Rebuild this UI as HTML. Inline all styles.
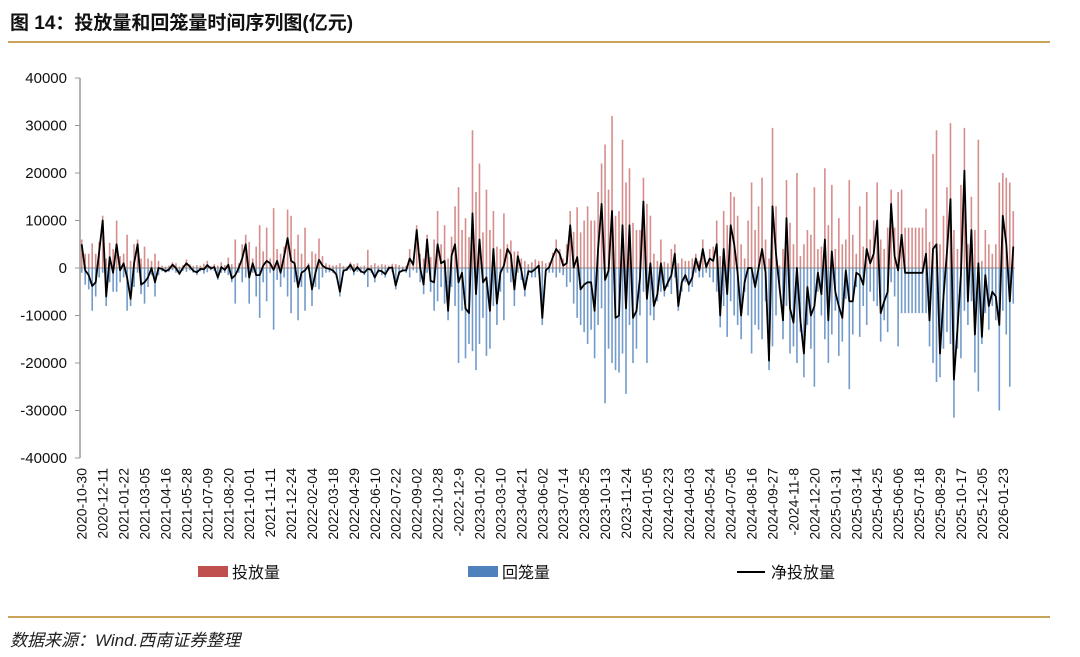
<!DOCTYPE html>
<html><head><meta charset="utf-8">
<style>
body{margin:0;background:#fff;width:1080px;height:657px;overflow:hidden;font-family:"Liberation Sans","Noto Sans CJK SC",sans-serif;}
#title{position:absolute;left:10px;top:8px;font-size:19px;font-weight:bold;color:#111;}
.rule{position:absolute;left:8px;width:1042px;height:2px;background:#c9a35a;}
#src{position:absolute;left:10px;top:626px;font-size:17px;font-style:italic;color:#222;}
</style></head><body>
<div id="title">图 14：投放量和回笼量时间序列图(亿元)</div>
<div class="rule" style="top:41px"></div>
<svg id="chart" width="1080" height="657" style="position:absolute;left:0;top:0"></svg>
<div class="rule" style="top:616px"></div>
<div id="src">数据来源：Wind.西南证券整理</div>
<script>
const yTicks=[40000,30000,20000,10000,0,-10000,-20000,-30000,-40000];
const xLabels=["2020-10-30","2020-12-11","2021-01-22","2021-03-05","2021-04-16","2021-05-28","2021-07-09","2021-08-20","2021-10-01","2021-11-11","2021-12-24","2022-02-04","2022-03-18","2022-04-29","2022-06-10","2022-07-22","2022-09-02","2022-10-28","-2022-12-9","2023-01-20","2023-03-10","2023-04-21","2023-06-02","2023-07-14","2023-08-25","2023-10-13","2023-11-24","2024-01-05","2024-02-23","2024-04-03","2024-05-24","2024-07-05","2024-08-16","2024-09-27","-2024-11-8","2024-12-20","2025-01-31","2025-03-14","2025-04-25","2025-06-06","2025-07-18","2025-08-29","2025-10-17","2025-12-05","2026-01-23"];
const injection=[6000,3000,3000,5200,3000,5500,11000,2000,5300,4000,10000,2500,
3000,7000,1500,5000,6000,2000,4500,2000,1500,3000,1500,500,
300,500,1200,1000,300,600,1800,800,400,600,500,900,
1500,400,800,500,1200,600,2200,800,6000,1000,5000,7000,
5500,2000,4500,9000,3500,8500,2000,12600,4000,3000,4500,12300,
11000,4000,7000,3000,8500,1000,3500,3000,6200,2500,1000,700,
500,600,1000,400,300,1200,800,1000,300,500,3800,600,
1000,500,800,700,500,900,800,600,300,500,4000,1200,
9000,3000,2000,7000,2300,6000,12000,5000,9000,2000,6600,13000,
17000,8000,10500,6500,29000,16000,22000,7500,16500,8000,12000,4500,
4000,11500,5000,5800,3500,3500,2000,1500,800,1200,1800,1500,
1500,1000,1200,3200,6000,4000,2000,5000,12000,7600,12800,7500,
10000,13000,10000,10000,16000,22000,26000,16500,32000,11000,12000,27000,
18000,21000,9500,8000,8000,19000,13500,11000,3000,1500,6000,1300,
1000,4000,5000,1000,2000,1500,1500,2000,3000,1500,6000,1200,
4000,4500,10000,2500,12000,9000,16000,15000,11000,5000,2000,10000,
18000,8000,13000,19000,6000,2000,29500,13000,500,4000,18500,9500,
5000,20000,2500,5000,8000,7000,17000,4000,4500,21000,9000,17500,
4000,10500,5000,6000,18500,7000,3000,13000,4500,16000,6000,10000,
18000,6000,4000,8500,16500,8500,16000,16500,8500,8500,8500,8500,
8500,8500,12500,5500,24000,29000,5000,11000,17000,30500,8000,4000,
17500,29500,5000,15000,8000,27000,1500,8000,5000,3000,5000,18000,
20000,19000,18000,12000];
const withdrawal=[-1000,-3500,-4500,-9000,-6000,-2000,-1000,-8000,-3000,-5000,-5000,-3000,
-2000,-9000,-8000,-4000,-1000,-5500,-7500,-4000,-1500,-6000,-1500,-700,
-1000,-800,-500,-1000,-1500,-600,-800,-500,-1000,-1500,-700,-1200,
-900,-500,-600,-2500,-1000,-1000,-1500,-3000,-7500,-1000,-3000,-2000,
-7500,-1000,-6000,-10500,-3000,-7000,-1000,-13000,-2500,-4000,-2000,-6000,
-9500,-3000,-11000,-4000,-9000,-500,-8000,-4000,-4500,-2000,-1000,-900,
-1000,-2000,-6000,-1000,-600,-500,-1500,-800,-1000,-1500,-4000,-1000,
-3000,-1000,-1500,-2000,-500,-800,-4500,-1500,-800,-1000,-2000,-500,
-1000,-3000,-5500,-1000,-5000,-9000,-7000,-4000,-7500,-11000,-4000,-8000,
-20000,-9000,-19000,-16000,-17500,-21500,-16000,-10500,-18500,-17000,-8000,-12000,
-5000,-11000,-1000,-3000,-8000,-1000,-2500,-6000,-1500,-2000,-2000,-1000,
-12000,-1500,-1000,-1000,-2000,-1000,-1500,-4000,-3000,-7500,-10500,-12000,
-13500,-16000,-13000,-19000,-12000,-8500,-28500,-17000,-20000,-21500,-22000,-18000,
-26500,-12000,-20000,-17000,-10000,-5000,-20000,-10000,-11000,-7000,-5000,-6000,
-4000,-5500,-2000,-9000,-5000,-3000,-5000,-4000,-1000,-2000,-2000,-1000,
-2000,-3000,-5000,-12500,-8000,-14500,-7000,-10000,-12000,-15000,-5000,-10000,
-18000,-12000,-13000,-15000,-7000,-21500,-16500,-10000,-4500,-15000,-8000,-18000,
-16500,-20000,-13500,-23000,-12000,-17000,-25000,-5000,-10000,-15000,-20000,-14000,
-9000,-18500,-15500,-6500,-25500,-14000,-4000,-14500,-8000,-12000,-5000,-7000,
-8000,-15500,-11000,-13500,-3000,-6000,-16500,-9500,-9500,-9500,-9500,-9500,
-9500,-9500,-9500,-16500,-20000,-24000,-23000,-17000,-13500,-16000,-31500,-17000,
-19000,-9000,-12000,-7000,-22000,-26000,-16000,-9500,-13000,-8000,-11000,-30000,
-9000,-14000,-25000,-7500];
const labelEvery=6;

const NS="http://www.w3.org/2000/svg";
const svg=document.getElementById('chart');
function mk(t,a){const e=document.createElementNS(NS,t);for(const k in a)e.setAttribute(k,a[k]);svg.appendChild(e);return e;}
const X0=80,X1=1015,Y0=78,Y1=458,N=injection.length;
const bw=(X1-X0)/N;
const y=v=>Y0+(40000-v)/80000*(Y1-Y0);
const x=i=>X0+bw*(i+0.5);

// y axis
let ax=mk('line',{x1:X0,y1:Y0,x2:X0,y2:Y1,stroke:'#999','stroke-width':1.5});


yTicks.forEach(v=>{
  const t=mk('line',{x1:X0-5,y1:y(v),x2:X0,y2:y(v),stroke:'#999','stroke-width':1});
  
  
  const l=mk('text',{x:67,y:y(v)+5,'text-anchor':'end','font-size':15,fill:'#111'});
  l.textContent=v;
  
  
});
// bars
for(let i=0;i<N;i++){
  const r=mk('rect',{x:x(i)-0.8,y:y(injection[i]),width:1.6,height:y(0)-y(injection[i]),fill:'#c0504d','fill-opacity':0.65});
  
  
  const b=mk('rect',{x:x(i)-0.8,y:y(0),width:1.6,height:y(withdrawal[i])-y(0),fill:'#4f81bd','fill-opacity':0.8});
  
  
}
let z=mk('line',{x1:X0,y1:y(0),x2:X1,y2:y(0),stroke:'#888','stroke-width':1});


// net line
let d='';
for(let i=0;i<N;i++){d+=(i?'L':'M')+x(i).toFixed(1)+','+y(injection[i]+withdrawal[i]).toFixed(1);}
let p=mk('path',{d:d,fill:'none',stroke:'#000','stroke-width':1.8,'stroke-linejoin':'round'});


// x labels
xLabels.forEach((s,k)=>{
  const xi=x(k*labelEvery)+5;
  const t=mk('text',{x:0,y:0,'text-anchor':'end','font-size':14,fill:'#111',transform:`translate(${xi},${Y1+10}) rotate(-90)`});
  t.textContent=s;
  
  
});
// legend
function leg(xs,kind,color,label,name){
  const g=document.createElementNS(NS,'g');svg.appendChild(g);
  
  
  let s;
  if(kind==='rect'){s=document.createElementNS(NS,'rect');s.setAttribute('x',xs);s.setAttribute('y',566);s.setAttribute('width',30);s.setAttribute('height',11);s.setAttribute('fill',color);}
  else{s=document.createElementNS(NS,'line');s.setAttribute('x1',xs);s.setAttribute('x2',xs+28);s.setAttribute('y1',572);s.setAttribute('y2',572);s.setAttribute('stroke',color);s.setAttribute('stroke-width',2);}
  g.appendChild(s);
  const t=document.createElementNS(NS,'text');t.setAttribute('x',xs+34);t.setAttribute('y',578);t.setAttribute('font-size',16);t.setAttribute('fill','#111');t.textContent=label;g.appendChild(t);
}
leg(198,'rect','#c0504d','投放量','legend-injection');
leg(468,'rect','#4f81bd','回笼量','legend-withdrawal');
leg(737,'line','#000','净投放量','legend-net-injection');
</script>
</body></html>
